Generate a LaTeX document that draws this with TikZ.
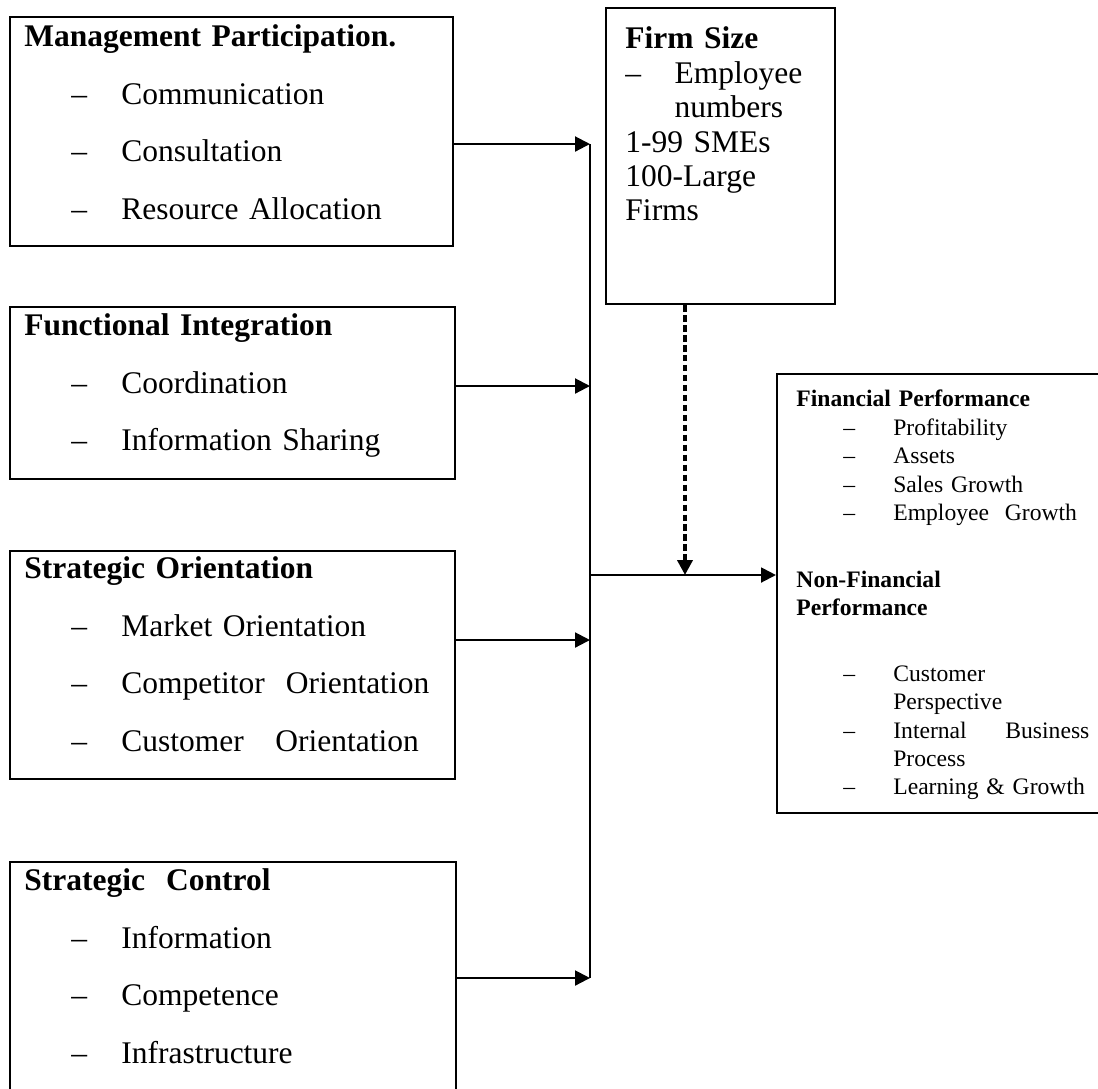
\documentclass[tikz,border=0pt]{standalone}
\usepackage{fontspec}
\setmainfont{Liberation Serif}
\usetikzlibrary{arrows.meta}
\usetikzlibrary{calc}
\usetikzlibrary{fit}

\newcommand{\dashitem}[1]{\hspace*{17.9pt}\makebox[19pt][l]{--}#1}
\newcommand{\wrapitem}[1]{\hspace*{36.9pt}#1}

\tikzset{
  panel/.style={draw, line width=0.8pt, inner sep=0pt},
  bigtext/.style={anchor=base west, inner sep=0pt, text width=170pt, align=left,
    font=\fontsize{12}{21.87}\selectfont},
  firmtext/.style={anchor=base west, inner sep=0pt, text width=80pt, align=left,
    font=\fontsize{12}{13.1}\selectfont},
  smalltext/.style={anchor=base west, inner sep=0pt, text width=111.6pt, align=left,
    font=\fontsize{9}{10.8}\selectfont},
  arr/.style={line width=0.8pt, -{Triangle[length=5.7pt,width=5.7pt]}},
  dasharr/.style={line width=1.4pt, dash pattern=on 2.5pt off 1.3pt,
    -{Triangle[length=5.7pt,width=5.7pt]}},
}

\begin{document}
\begin{tikzpicture}[x=0.381pt, y=-0.381pt]
  \path[use as bounding box, clip] (0,0) rectangle (1098,1088);

  % determinants
  \node[panel, fit={(10,17) (453,246)}] (mp) {};
  \node[bigtext] (mp-t) at ($(mp.north west)+(15,31)$) {\textbf{Management Participation.}\\
    \dashitem{Communication}\\
    \dashitem{Consultation}\\
    \dashitem{Resource Allocation}};

  \node[panel, fit={(10,307) (455,479)}] (fi) {};
  \node[bigtext] (fi-t) at ($(fi.north west)+(15,30)$) {\textbf{Functional Integration}\\
    \dashitem{Coordination}\\
    \dashitem{Information Sharing}};

  \node[panel, fit={(10,551) (455,779)}] (so) {};
  \node[bigtext] (so-t) at ($(so.north west)+(15,29)$) {\textbf{Strategic Orientation}\\
    \dashitem{Market Orientation}\\
    \dashitem{Competitor\ \ Orientation}\\
    \dashitem{Customer\ \ \ Orientation}};

  \node[panel, fit={(10,862) (456,1120)}] (sc) {};
  \node[bigtext] (sc-t) at ($(sc.north west)+(15,30)$) {\textbf{Strategic\ \ Control}\\
    \dashitem{Information}\\
    \dashitem{Competence}\\
    \dashitem{Infrastructure}};

  % moderator
  \node[panel, fit={(606,8) (835,304)}] (fs) {};
  \node[firmtext] (fs-t) at ($(fs.north west)+(20,42)$) {\textbf{Firm Size}\\
    \makebox[18.7pt][l]{--}Employee\\
    \hspace*{18.7pt}numbers\\
    1-99 SMEs\\
    100-Large\\
    Firms};

  % outcome
  \node[panel, fit={(777,374) (1115,813)}] (perf) {};
  \node[smalltext] (perf-t) at ($(perf.north west)+(20,34)$) {\textbf{Financial Performance}\\
    \dashitem{Profitability}\\
    \dashitem{Assets}\\
    \dashitem{Sales Growth}\\
    \dashitem{Employee\ \ Growth}\\[14.7pt]
    \textbf{Non-Financial}\\
    \textbf{Performance}\\[14.3pt]
    \dashitem{Customer}\\
    \wrapitem{Perspective}\\
    \dashitem{Internal\hfill Business}\\
    \wrapitem{Process}\\
    \dashitem{Learning \& Growth}};

  % collector line
  \coordinate (b1) at (590,144);
  \coordinate (b2) at (590,386);
  \coordinate (b3) at (590,640);
  \coordinate (b4) at (590,978);
  \coordinate (bo) at (590,575);
  \coordinate (join) at (685,575);

  \draw[line width=0.8pt] (b1) -- (b4);
  \draw[arr] (mp.east |- b1) -- (b1);
  \draw[arr] (fi.east |- b2) -- (b2);
  \draw[arr] (so.east |- b3) -- (b3);
  \draw[arr] (sc.east |- b4) -- (b4);
  \draw[arr] (bo) -- (perf.west |- bo);
  \draw[dasharr] (fs.south -| join) -- (join);
\end{tikzpicture}
\end{document}
